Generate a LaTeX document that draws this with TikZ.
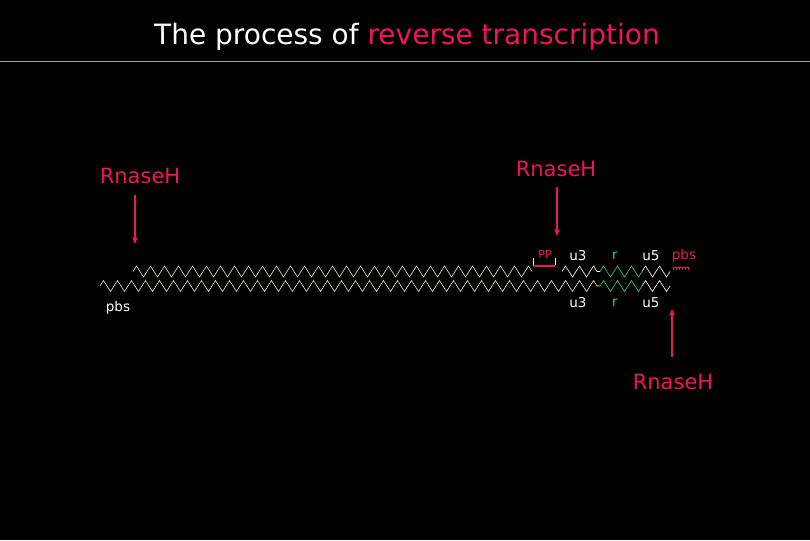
\documentclass[tikz,border=0pt]{standalone}
\usepackage{fontspec}
\setmainfont{DejaVu Sans}
\usetikzlibrary{decorations.pathmorphing,arrows.meta}
\definecolor{pk}{RGB}{240,20,90}
\definecolor{gr}{RGB}{60,200,130}
\definecolor{yl}{RGB}{235,235,200}
\begin{document}
\begin{tikzpicture}[x=1pt,y=-1pt,
  zz/.style={decorate,decoration={zigzag,segment length=14pt,amplitude=5.5pt},line width=0.6pt},
  lab/.style={font=\fontsize{13.5}{16}\selectfont,text=white,inner sep=0},
  rn/.style={font=\fontsize{21}{25}\selectfont,text=pk,inner sep=0},
  arr/.style={pk,line width=1.3pt,-{Stealth[length=7pt,width=6pt]}}]
\fill[black] (0,0) rectangle (810,540);
\useasboundingbox (0,0) rectangle (810,540);
\node[inner sep=0,font=\fontsize{28}{32}\selectfont,text=white] (title) at (407,37) {The process of \textcolor{pk}{reverse transcription}};
\draw[gray!70,line width=0.6pt] (0,61) -- (810,61);
% strands
\draw[zz,yl] (133,271.5) -- (532,271.5);
\draw[zz,white] (562,271.5) -- (600,271.5);
\draw[zz,gr] (600,271.5) -- (642,271.5);
\draw[zz,white] (642,271.5) -- (670,271.5);
\draw[zz,yl] (100,286) -- (600,286);
\draw[zz,gr] (600,286) -- (642,286);
\draw[zz,white] (642,286) -- (670,286);
% PP bracket
\draw[white,line width=0.6pt] (533,258) -- (533,265) (555,258) -- (555,265);
\draw[pk,line width=2pt] (533,265.5) -- (555,265.5);
\node[inner sep=0,font=\fontsize{11}{12}\selectfont,text=pk] (pp) at (545,254) {PP};
\node[inner sep=0,font=\fontsize{13.5}{16}\selectfont,text=pk] (pbs2) at (684,256) {pbs};
\draw[pk,line width=0.8pt] (673,267) -- (688,267);
\foreach \x in {673,676,...,688} \draw[pk,line width=0.6pt] (\x,267) -- (\x,270);
% labels
\node[lab] (u3a) at (578,256) {u3};
\node[lab,text=gr] (ra) at (615,256) {r};
\node[lab] (u5a) at (651,256) {u5};
\node[lab] (u3b) at (578,303) {u3};
\node[lab,text=gr] (rb) at (615,303) {r};
\node[lab] (u5b) at (651,303) {u5};
\node[lab] (pbs1) at (118,308) {pbs};
% RnaseH
\node[rn] (r1) at (140,176) {RnaseH};
\node[rn] (r2) at (556,169) {RnaseH};
\node[rn] (r3) at (673,382) {RnaseH};
\coordinate (t1) at (135,244);
\coordinate (t2) at (557,236);
\coordinate (t3) at (672,309);
\draw[arr] (135,195) -- (t1);
\draw[arr] (557,187) -- (t2);
\draw[arr] (672,357) -- (t3);
\end{tikzpicture}
\end{document}
